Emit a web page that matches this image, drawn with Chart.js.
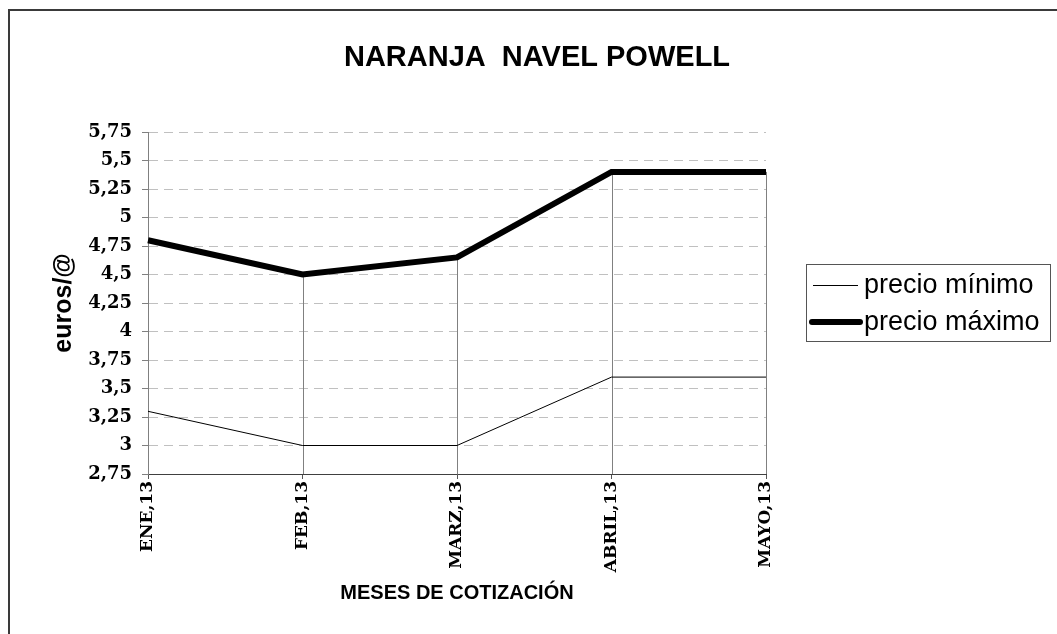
<!DOCTYPE html>
<html>
<head>
<meta charset="utf-8">
<script src="https://cdn.jsdelivr.net/npm/chart.js@4.4.1/dist/chart.umd.min.js"></script>
<style>
  html, body { margin: 0; padding: 0; background: #ffffff; }
  #wrap { position: relative; width: 1057px; height: 634px; }
</style>
</head>
<body>
<div id="wrap"><canvas id="c" width="1057" height="634"></canvas></div>
<script>
// ---- data ----
const chartTitle = 'NARANJA  NAVEL POWELL';
const yAxisTitle = 'euros/@';
const xAxisTitle = 'MESES DE COTIZACIÓN';
const categories = ['ENE,13', 'FEB,13', 'MARZ,13', 'ABRIL,13', 'MAYO,13'];
const seriesNames = ['precio mínimo', 'precio máximo'];
const precioMinimo = [3.3, 3.0, 3.0, 3.6, 3.6];
const precioMaximo = [4.8, 4.5, 4.65, 5.4, 5.4];
const yTickValues = [2.75, 3, 3.25, 3.5, 3.75, 4, 4.25, 4.5, 4.75, 5, 5.25, 5.5, 5.75];
const yTickLabels = ['2,75', '3', '3,25', '3,5', '3,75', '4', '4,25', '4,5', '4,75', '5', '5,25', '5,5', '5,75'];

const sansFont = '"Liberation Sans", Arial, sans-serif';
const serifFont = '"DejaVu Serif", "Liberation Serif", serif';

// drop lines, frame, title and legend box
const decorations = {
  id: 'decorations',
  beforeDatasetsDraw(chart) {
    const ctx = chart.ctx;
    const area = chart.chartArea;
    const metas = chart.data.datasets.map((d, i) => chart.getDatasetMeta(i));
    ctx.save();
    ctx.strokeStyle = '#808080';
    ctx.lineWidth = 1;
    for (let i = 0; i < categories.length; i++) {
      let top = Infinity, x = null;
      metas.forEach(m => {
        const p = m.data[i];
        if (p) { top = Math.min(top, p.y); x = p.x; }
      });
      if (x === null) continue;
      const px = Math.round(x) + 0.5;
      ctx.beginPath();
      ctx.moveTo(px, top);
      ctx.lineTo(px, area.bottom);
      ctx.stroke();
    }
    ctx.restore();
  },
  afterDraw(chart) {
    const ctx = chart.ctx;
    ctx.save();
    // outer frame (left & top edges visible)
    ctx.strokeStyle = '#3a3a3a';
    ctx.lineWidth = 2;
    ctx.beginPath();
    ctx.moveTo(9, 640);
    ctx.lineTo(9, 10);
    ctx.lineTo(1060, 10);
    ctx.stroke();

    // main title
    ctx.fillStyle = '#000';
    ctx.font = 'bold 29px ' + sansFont;
    ctx.textAlign = 'center';
    ctx.textBaseline = 'middle';
    ctx.fillText(chartTitle, 537, 58);

    // legend
    ctx.strokeStyle = '#555';
    ctx.lineWidth = 1;
    ctx.strokeRect(806.5, 264.5, 244, 77);
    const ds = chart.data.datasets;
    const rows = [285, 322];
    ds.forEach((d, i) => {
      ctx.strokeStyle = d.borderColor;
      ctx.lineWidth = d.borderWidth;
      ctx.lineCap = d.borderWidth > 2 ? 'round' : 'butt';
      ctx.beginPath();
      if (d.borderWidth > 2) { ctx.moveTo(812, rows[i]); ctx.lineTo(860, rows[i]); }
      else { ctx.moveTo(813, rows[i] + 0.5); ctx.lineTo(858, rows[i] + 0.5); }
      ctx.stroke();
      ctx.fillStyle = '#000';
      ctx.font = '27px ' + sansFont;
      ctx.textAlign = 'left';
      ctx.textBaseline = 'middle';
      ctx.fillText(d.label, 864, rows[i] + 1);
    });
    ctx.restore();
  }
};

new Chart(document.getElementById('c'), {
  type: 'line',
  data: {
    labels: categories,
    datasets: [
      { label: seriesNames[0], data: precioMinimo, borderColor: '#000000', borderWidth: 1,
        pointRadius: 0, pointHoverRadius: 0, tension: 0, fill: false, order: 2 },
      { label: seriesNames[1], data: precioMaximo, borderColor: '#000000', borderWidth: 6,
        pointRadius: 0, pointHoverRadius: 0, tension: 0, fill: false, order: 1 }
    ]
  },
  options: {
    responsive: false,
    animation: false,
    events: [],
    layout: { padding: { top: 132, right: 291, left: 0, bottom: 0 } },
    plugins: {
      legend: { display: false },
      title: { display: false },
      tooltip: { enabled: false }
    },
    scales: {
      x: {
        type: 'category',
        offset: false,
        afterFit(scale) { scale.height = 160; },
        grid: { display: true, drawOnChartArea: false, drawTicks: true, tickLength: 5,
                color: '#555', tickColor: '#555' },
        border: { display: true, color: '#404040', width: 1 },
        ticks: {
          autoSkip: false, minRotation: 90, maxRotation: 90, padding: 2,
          color: '#000', font: { family: serifFont, size: 17, weight: 'bold' }
        },
        title: {
          display: true, text: xAxisTitle, color: '#000', padding: 29,
          font: { family: sansFont, size: 20, weight: 'bold' }
        }
      },
      y: {
        type: 'linear',
        min: 2.75, max: 5.75,
        afterFit(scale) { scale.width = 148; },
        afterBuildTicks(scale) { scale.ticks = yTickValues.map(v => ({ value: v })); },
        grid: { color: '#c0c0c0', lineWidth: 1, borderDash: [9, 6], tickLength: 6,
                tickColor: '#808080', tickBorderDash: [0, 0], drawTicks: true },
        border: { display: true, color: '#808080', width: 1, dash: [9, 6] },
        ticks: {
          padding: 10, color: '#000',
          font: { family: serifFont, size: 18, weight: 'bold' },
          callback(value) {
            const i = yTickValues.findIndex(v => Math.abs(v - value) < 1e-9);
            return i >= 0 ? yTickLabels[i] : '';
          }
        },
        title: {
          display: true, text: yAxisTitle, color: '#000', padding: 49,
          font: { family: sansFont, size: 25, weight: 'bold' }
        }
      }
    }
  },
  plugins: [decorations]
});
</script>
</body>
</html>
